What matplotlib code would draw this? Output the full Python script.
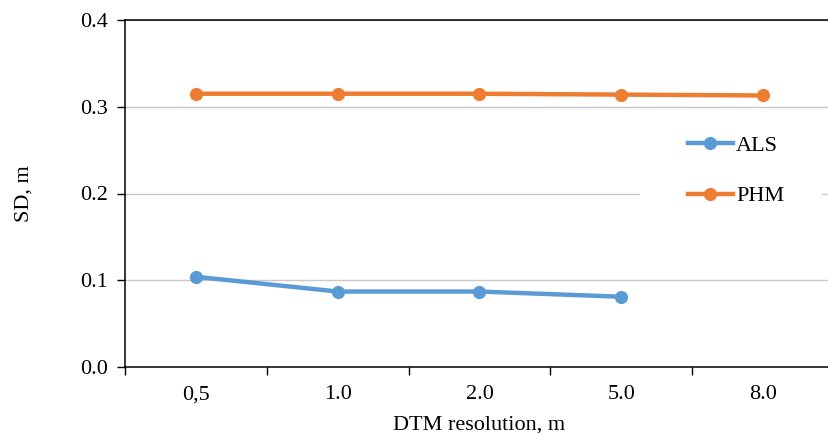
import matplotlib.pyplot as plt
from matplotlib.patches import Rectangle

plt.rcParams['font.family'] = ['Liberation Serif', 'DejaVu Serif']

categories = ["0,5", "1.0", "2.0", "5.0", "8.0"]
als = [0.104, 0.087, 0.087, 0.081]
phm = [0.315, 0.315, 0.315, 0.314, 0.313]
yticks = [0.0, 0.1, 0.2, 0.3, 0.4]

fig = plt.figure(figsize=(8.29, 4.33), dpi=100)
ax = fig.add_axes([125 / 829, 1 - 367 / 433, (834 - 125) / 829, (367 - 20) / 433])

x = list(range(len(categories)))
ax.plot(x[:len(als)], als, color="#5B9BD5", lw=3.2, marker="o", ms=8.5, label="ALS", zorder=3)
ax.plot(x, phm, color="#ED7D31", lw=3.2, marker="o", ms=8.5, label="PHM", zorder=3)

ax.set_xlim(-0.5, len(categories) - 0.5)
ax.set_ylim(0, 0.4)
ax.set_yticks(yticks)
ax.set_yticklabels(["%.1f" % v for v in yticks])
ax.set_xticks(x)
ax.set_xticklabels(categories)
ax.set_xticks([i - 0.5 for i in range(len(categories) + 1)], minor=True)
ax.tick_params(axis="x", which="major", length=0, pad=13, labelsize=16)
ax.tick_params(axis="x", which="minor", length=6, width=1, direction="out")
ax.tick_params(axis="y", length=6, width=1, direction="out", labelsize=16, pad=6)
ax.grid(axis="y", color="#c8c8c8", lw=1, zorder=0)

for s in ["left", "top", "bottom"]:
    ax.spines[s].set_color("black")
    ax.spines[s].set_linewidth(1.1)
ax.spines["right"].set_visible(False)

ax.set_ylabel("SD, m", fontsize=16, labelpad=34)
ax.set_xlabel("DTM resolution, m", fontsize=16, labelpad=8)

# white legend area hiding the gridline behind it
ax.add_patch(Rectangle((0.7264, 0.409), 0.257, 0.309, transform=ax.transAxes,
                       facecolor="white", edgecolor="none", zorder=2))
leg = ax.legend(loc="center left", bbox_to_anchor=(0.7786, 0.565), frameon=False,
                fontsize=16, handlelength=2.0, labelspacing=1.34, borderpad=0,
                handletextpad=0.15)

plt.savefig("out.png", dpi=100)
